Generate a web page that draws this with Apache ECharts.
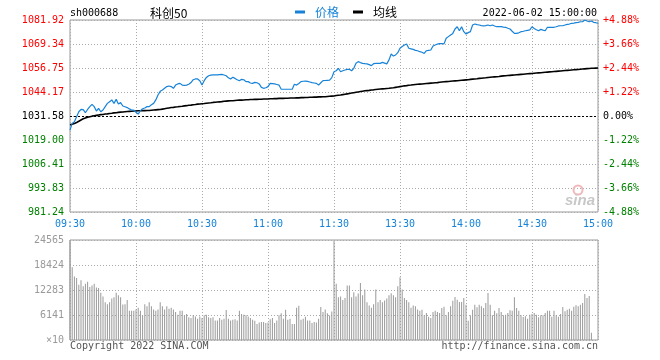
<!DOCTYPE html>
<html><head><meta charset="utf-8">
<script src="https://cdn.jsdelivr.net/npm/echarts@6/dist/echarts.min.js"></script>
<style>html,body{margin:0;padding:0;background:#fff}#c{width:660px;height:360px}</style>
</head><body><div id="c"></div>
<script>
const symbolCode = 'sh000688';
const indexName = '科创50';
const timeStamp = '2022-06-02 15:00:00';
const prevClose = 1031.58;
const priceMin = 981.24, priceMax = 1081.92;
const timeTicks = ['09:30','10:00','10:30','11:00','11:30','13:30','14:00','14:30','15:00'];
const priceTicks = ['981.24','993.83','1006.41','1019.00','1031.58','1044.17','1056.75','1069.34','1081.92'];
const pctTicks = ['-4.88%','-3.66%','-2.44%','-1.22%','0.00%','+1.22%','+2.44%','+3.66%','+4.88%'];
const volTicks = ['×10','6141','12283','18424','24565'];
const volMax = 24565;
const seriesNames = ['价格','均线'];

const price = [
1024.2,1027.7,1028.6,1031.2,1033.8,1035.1,1034.9,1033.3,1035.0,1036.5,
1037.7,1036.5,1034.2,1035.6,1033.8,1034.7,1036.5,1038.2,1039.1,1040.0,
1038.2,1040.3,1037.9,1038.6,1036.8,1036.4,1036.0,1035.3,1034.7,1034.7,
1033.5,1032.6,1034.4,1035.4,1035.8,1036.5,1036.5,1037.5,1038.2,1040.0,
1042.6,1044.5,1045.2,1046.1,1047.0,1047.3,1047.0,1046.1,1047.8,1048.4,
1048.7,1047.8,1047.6,1047.8,1048.2,1049.1,1050.6,1051.0,1051.0,1050.1,
1047.8,1050.1,1051.8,1052.7,1053.0,1053.1,1053.2,1053.1,1053.3,1053.4,
1053.1,1052.7,1051.6,1051.0,1051.9,1051.3,1050.6,1050.1,1050.8,1050.6,
1049.6,1049.6,1048.9,1048.7,1049.2,1049.0,1048.4,1046.6,1046.1,1046.4,
1047.0,1048.7,1048.6,1048.4,1048.1,1047.8,1045.6,1045.6,1045.6,1045.6,
1045.6,1045.6,1048.2,1047.8,1048.6,1049.6,1049.8,1049.9,1049.7,1049.4,
1049.1,1048.9,1048.7,1047.8,1049.0,1050.1,1050.2,1050.3,1050.4,1051.7,
1054.8,1055.3,1056.6,1054.8,1055.3,1055.7,1056.0,1056.1,1055.3,1056.6,
1059.2,1060.1,1059.6,1059.2,1059.0,1058.9,1058.5,1058.0,1059.0,1059.2,
1059.2,1059.2,1059.7,1059.3,1058.9,1061.0,1064.1,1063.0,1063.6,1064.8,
1067.1,1068.0,1068.8,1069.3,1067.1,1066.8,1066.5,1066.0,1065.8,1065.3,
1065.0,1064.4,1065.8,1066.0,1066.2,1068.3,1068.8,1069.3,1069.5,1069.6,
1069.4,1072.3,1073.2,1074.1,1074.9,1077.2,1078.4,1076.3,1078.4,1075.8,
1074.6,1075.3,1075.8,1079.3,1079.8,1079.5,1079.3,1079.0,1078.8,1079.0,
1079.3,1078.9,1079.3,1078.8,1078.4,1078.4,1078.4,1078.2,1078.1,1077.6,
1077.2,1076.0,1074.9,1074.9,1075.2,1075.8,1076.0,1076.3,1076.5,1076.7,
1078.4,1077.5,1076.8,1076.3,1077.0,1076.6,1076.3,1078.1,1078.1,1078.1,
1078.1,1078.4,1078.8,1078.9,1078.9,1079.3,1079.6,1079.8,1080.2,1080.3,
1080.5,1080.7,1081.0,1081.0,1081.9,1081.4,1081.0,1081.4,1080.7,1080.5,
1080.2
];

const avgPrice = [
1027.0,1027.3,1027.7,1028.2,1028.8,1029.5,1030.1,1030.5,1030.9,1031.2,
1031.5,1031.7,1031.9,1032.1,1032.3,1032.4,1032.6,1032.7,1032.9,1033.0,
1033.2,1033.3,1033.5,1033.6,1033.7,1033.8,1033.9,1034.0,1034.1,1034.2,
1034.2,1034.3,1034.3,1034.4,1034.4,1034.5,1034.5,1034.6,1034.7,1034.8,
1034.9,1035.0,1035.2,1035.4,1035.6,1035.8,1036.0,1036.1,1036.3,1036.4,
1036.6,1036.7,1036.9,1037.0,1037.2,1037.3,1037.5,1037.6,1037.8,1037.9,
1038.0,1038.1,1038.3,1038.4,1038.5,1038.7,1038.8,1038.9,1039.0,1039.1,
1039.3,1039.4,1039.5,1039.6,1039.6,1039.7,1039.8,1039.9,1039.9,1040.0,
1040.1,1040.1,1040.2,1040.2,1040.3,1040.3,1040.4,1040.4,1040.5,1040.5,
1040.5,1040.6,1040.6,1040.7,1040.7,1040.8,1040.8,1040.8,1040.9,1040.9,
1041.0,1041.0,1041.0,1041.1,1041.1,1041.2,1041.2,1041.3,1041.3,1041.4,
1041.4,1041.5,1041.5,1041.6,1041.6,1041.7,1041.7,1041.8,1041.9,1042.0,
1042.1,1042.3,1042.5,1042.6,1042.8,1043.0,1043.2,1043.4,1043.6,1043.8,
1044.0,1044.2,1044.4,1044.6,1044.8,1044.9,1045.0,1045.2,1045.3,1045.5,
1045.6,1045.7,1045.8,1045.9,1046.0,1046.1,1046.3,1046.4,1046.6,1046.8,
1047.0,1047.2,1047.4,1047.5,1047.7,1047.8,1048.0,1048.1,1048.2,1048.3,
1048.4,1048.5,1048.6,1048.7,1048.8,1048.9,1049.0,1049.1,1049.3,1049.4,
1049.5,1049.6,1049.7,1049.8,1049.9,1050.0,1050.1,1050.2,1050.3,1050.4,
1050.5,1050.6,1050.8,1050.9,1051.0,1051.1,1051.3,1051.4,1051.5,1051.6,
1051.8,1051.9,1052.0,1052.1,1052.2,1052.3,1052.5,1052.6,1052.7,1052.8,
1052.9,1053.0,1053.1,1053.2,1053.3,1053.4,1053.5,1053.6,1053.7,1053.8,
1053.9,1054.0,1054.1,1054.2,1054.3,1054.4,1054.5,1054.6,1054.7,1054.8,
1054.9,1055.0,1055.1,1055.2,1055.3,1055.4,1055.5,1055.6,1055.7,1055.8,
1055.9,1056.0,1056.1,1056.2,1056.3,1056.4,1056.5,1056.6,1056.6,1056.7,
1056.75
];

const volume = [
24565,17900,15600,15200,13600,14700,13200,13800,14300,13000,
13400,13800,12900,12800,11600,10700,9300,8800,9300,10200,
10500,11600,11000,10500,8700,8800,9800,7200,7200,7200,
7500,7900,7200,6100,8800,8300,9300,8300,7500,7200,
7500,9300,8300,7500,8300,7700,7900,7500,6900,6200,
7200,7200,6100,6400,5600,5400,6100,5800,5200,5800,
5400,6100,6200,5600,5400,5600,4800,4800,5400,5000,
5200,7400,5200,4800,5000,5100,4800,7200,6400,6200,
6100,5800,5400,5000,4700,3900,4300,4400,4400,4200,
4300,5100,5400,4200,4800,6100,6600,5200,7450,5000,
5200,3900,3900,7900,8400,5000,5200,5700,4800,4800,
4200,4400,4300,5200,8100,6900,7500,6600,6000,7000,
24400,13800,10500,10700,9800,10300,13400,13400,10500,11700,
10700,11400,14000,11000,12400,9300,8500,7900,8800,12400,
9300,9800,9300,9700,10200,11000,11500,11000,10500,13200,
15400,12400,10300,9800,9300,7900,8500,8300,7500,7200,
7450,6060,6630,5730,5400,6880,7200,6880,6630,7860,
8190,6060,6880,8270,9660,10560,9910,9330,9330,10320,
8680,4750,6060,7450,8680,8030,8680,8270,7860,9090,
11550,8680,6060,7200,6550,7860,6880,6060,6220,6630,
7290,7200,10480,7860,7200,6060,5650,5810,5240,6220,
6390,6630,6220,5570,6060,6060,6630,7200,7200,5730,
7200,6060,5730,6390,8110,7040,7450,7700,7200,8190,
8520,8270,8680,9090,11300,10320,10810,1800,0,0,
0
];

const MONO = "'DejaVu Sans Mono', monospace";
const CJK = "'Noto Sans CJK SC', sans-serif";
const BLUE = '#1683d8';
const GRIDC = '#aaaaaa';

function richLabel(ticks) {
  return function (v) {
    const k = Math.round(v) + 4;
    const s = k > 4 ? 'u' : (k < 4 ? 'd' : 'z');
    return '{' + s + '|' + ticks[k] + '}';
  };
}
const richStyles = {
  u: { color: '#ff0000', fontFamily: MONO, fontSize: 10 },
  d: { color: '#008000', fontFamily: MONO, fontSize: 10 },
  z: { color: '#000000', fontFamily: MONO, fontSize: 10 }
};
const dotted = { color: GRIDC, type: [1, 2], width: 1 };

const chart = echarts.init(document.getElementById('c'), null, { renderer: 'canvas' });
chart.setOption({
  animation: false,
  backgroundColor: '#ffffff',
  grid: [
    { left: 70, top: 20, width: 528, height: 192, show: true, borderColor: '#999', borderWidth: 1, containLabel: false, outerBoundsMode: 'none' },
    { left: 70, top: 240, width: 528, height: 100, show: true, borderColor: '#999', borderWidth: 1, containLabel: false, outerBoundsMode: 'none' }
  ],
  legend: {
    left: 295, top: 6, padding: 0, icon: 'rect', itemWidth: 10, itemHeight: 3, itemGap: 14,
    selectedMode: false,
    textStyle: { fontSize: 12, fontFamily: CJK, padding: [0, 0, 0, 5] },
    data: [
      { name: seriesNames[0], itemStyle: { color: BLUE }, textStyle: { color: BLUE } },
      { name: seriesNames[1], itemStyle: { color: '#000' }, textStyle: { color: '#000' } }
    ]
  },
  xAxis: [
    { type: 'value', gridIndex: 0, min: 0, max: 240, interval: 30,
      axisLine: { show: false }, axisTick: { show: false },
      axisLabel: { show: true, margin: 7, color: BLUE, fontFamily: MONO, fontSize: 10,
        showMinLabel: true, showMaxLabel: true,
        formatter: v => timeTicks[Math.round(v / 30)] },
      splitLine: { show: true, lineStyle: dotted } },
    { type: 'value', gridIndex: 1, min: 0, max: 240, interval: 30,
      axisLine: { show: false }, axisTick: { show: false }, axisLabel: { show: false },
      splitLine: { show: true, lineStyle: dotted } }
  ],
  yAxis: [
    { type: 'value', gridIndex: 0, min: priceMin, max: priceMax, show: false, splitLine: { show: false } },
    { type: 'value', gridIndex: 0, min: -4, max: 4, interval: 1, position: 'left',
      axisLine: { show: false }, axisTick: { show: false },
      axisLabel: { margin: 6, formatter: richLabel(priceTicks), rich: richStyles, showMinLabel: true, showMaxLabel: true },
      splitLine: { show: true, lineStyle: dotted } },
    { type: 'value', gridIndex: 0, min: -4, max: 4, interval: 1, position: 'right',
      axisLine: { show: false }, axisTick: { show: false },
      axisLabel: { margin: 5, formatter: richLabel(pctTicks), rich: richStyles, showMinLabel: true, showMaxLabel: true },
      splitLine: { show: false } },
    { type: 'value', gridIndex: 1, min: 0, max: volMax, interval: volMax / 4, position: 'left',
      axisLine: { show: false }, axisTick: { show: false },
      axisLabel: { margin: 6, color: '#999', fontFamily: MONO, fontSize: 10, showMinLabel: true, showMaxLabel: true,
        formatter: v => volTicks[Math.round(v / (volMax / 4))] },
      splitLine: { show: true, lineStyle: dotted } }
  ],
  series: [
    { name: seriesNames[0], type: 'line', xAxisIndex: 0, yAxisIndex: 0,
      data: price.map((v, i) => [i, v]), showSymbol: false, symbol: 'none',
      lineStyle: { color: BLUE, width: 1.2 }, itemStyle: { color: BLUE }, z: 4,
      markLine: { silent: true, symbol: ['none', 'none'], label: { show: false },
        lineStyle: { color: '#000', type: [2, 2], width: 1 }, data: [{ yAxis: prevClose }] } },
    { name: seriesNames[1], type: 'line', xAxisIndex: 0, yAxisIndex: 0,
      data: avgPrice.map((v, i) => [i, v]), showSymbol: false, symbol: 'none',
      lineStyle: { color: '#000', width: 1.6 }, itemStyle: { color: '#000' }, z: 3 },
    { name: '成交量', type: 'bar', xAxisIndex: 1, yAxisIndex: 3,
      data: volume.map((v, i) => [i, v]), barWidth: 1,
      itemStyle: { color: '#999' } }
  ],
  graphic: [
    { type: 'text', style: { x: 70, y: 13, text: symbolCode, font: '10px ' + MONO, fill: '#000', verticalAlign: 'middle' } },
    { type: 'text', style: { x: 150, y: 13, text: indexName, font: '12px ' + CJK, fill: '#000', verticalAlign: 'middle' } },
    { type: 'text', style: { x: 597, y: 13, text: timeStamp, font: '10px ' + MONO, fill: '#000', align: 'right', verticalAlign: 'middle' } },
    { type: 'text', style: { x: 70, y: 346, text: 'Copyright 2022 SINA.COM', font: '10px ' + MONO, fill: '#555', verticalAlign: 'middle' } },
    { type: 'text', style: { x: 598, y: 346, text: 'http://finance.sina.com.cn', font: '10px ' + MONO, fill: '#555', align: 'right', verticalAlign: 'middle' } },
    { type: 'circle', shape: { cx: 578, cy: 190, r: 4.5 }, style: { fill: 'none', stroke: '#f0b8b8', lineWidth: 2 }, z: 1 },
    { type: 'text', style: { x: 565, y: 201, text: 'sina', font: 'italic bold 15px Arial, sans-serif', fill: '#c8c8c8', verticalAlign: 'middle' }, z: 1 }
  ]
});
</script>
</body></html>
